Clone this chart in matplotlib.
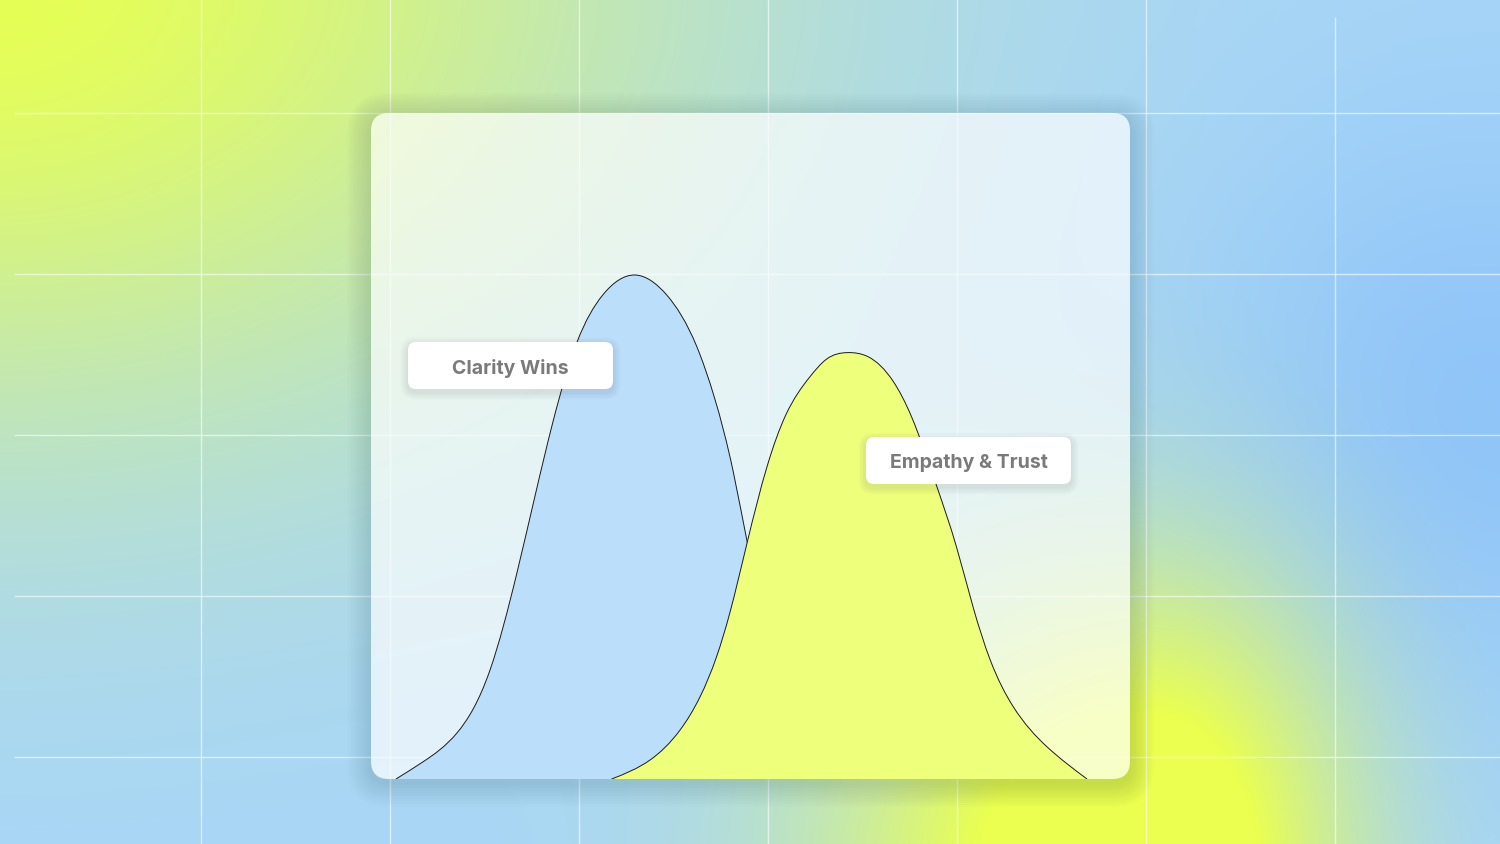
import numpy as np
import matplotlib
matplotlib.use("Agg")
import matplotlib.pyplot as plt
from matplotlib.patches import FancyBboxPatch, PathPatch
from matplotlib.path import Path

# curve data (x in score units, y relative density, blue peak = 100)
blue_x = [0, 3.9, 8.8, 13.6, 17.5, 22.7, 26.2, 29.9, 34.6,
          39.2, 43.5, 46.1, 48.8, 50.8, 55.6, 60.3, 65.3, 69.2]
blue_y = [0, 3.4, 9.1, 21.6, 40.9, 70.8, 86.7, 96.0, 100,
          96.0, 85.9, 75.6, 61.0, 47.2, 21.6, 9.1, 3.4, 0]
yellow_x = [31.2, 36.8, 41.1, 44.0, 46.4, 48.3, 50.8, 53.7, 56.4, 59.9, 62.3, 65.3,
            68.3, 72.0, 74.6, 78.2, 81.1, 83.5, 86.0, 89.3, 94.2, 100.0]
yellow_y = [0, 3.8, 9.7, 16.3, 24.3, 32.9, 46.8, 62.0, 72.2, 79.8, 83.3, 84.6,
            83.8, 78.8, 71.9, 58.3, 46.1, 34.2, 23.6, 14.4, 6.4, 0]
labels = ["Clarity Wins", "Empathy & Trust"]

W, H = 1500, 844
CARD = (371, 113, 759, 666)  # x, y(top), w, h in px


def spline_verts(xs, ys):
    # natural cubic spline, written out as bezier segments
    xs = np.asarray(xs, float)
    ys = np.asarray(ys, float)
    n = len(xs)
    h = np.diff(xs)
    d = np.diff(ys) / h
    A = np.zeros((n, n))
    r = np.zeros(n)
    A[0, 0] = A[-1, -1] = 1
    for k in range(1, n - 1):
        A[k, k - 1] = h[k - 1]
        A[k, k] = 2 * (h[k - 1] + h[k])
        A[k, k + 1] = h[k]
        r[k] = 6 * (d[k] - d[k - 1])
    M = np.linalg.solve(A, r)
    m = np.empty(n)
    m[:-1] = d - h * (2 * M[:-1] + M[1:]) / 6
    m[-1] = d[-1] + h[-1] * (M[-2] + 2 * M[-1]) / 6
    verts = [(xs[0], ys[0])]
    codes = [Path.MOVETO]
    for k in range(n - 1):
        dx = h[k]
        verts += [(xs[k] + dx / 3, ys[k] + m[k] * dx / 3),
                  (xs[k + 1] - dx / 3, ys[k + 1] - m[k + 1] * dx / 3),
                  (xs[k + 1], ys[k + 1])]
        codes += [Path.CURVE4] * 3
    return verts, codes


def background():
    yy, xx = np.mgrid[0:H, 0:W] + 0.5
    img = np.ones((H, W, 3)) * np.array([168, 214, 248]) / 255

    def mix(img, col, w):
        col = np.array(col) / 255
        return img * (1 - w[..., None]) + col * w[..., None]

    img = mix(img, (230, 255, 85), np.exp(-((xx + 20) / 660) ** 2 - ((yy + 20) / 440) ** 2))
    img = mix(img, (140, 194, 250), 0.85 * np.exp(-((xx - 1480) / 300) ** 2 - ((yy - 420) / 300) ** 2))
    sx = np.where(xx > 1150, 190, 300)
    w = np.clip(1.4 * np.exp(-((xx - 1150) / sx) ** 2 - ((yy - 880) / 290) ** 2), 0, 1)
    img = mix(img, (234, 255, 80), w)
    return np.clip(img, 0, 1)


def shadow_box(ax, x, y, w, h, r, layers, step, alpha, dy, z, col=(0.12, 0.22, 0.28)):
    for i in range(layers, 0, -1):
        p = i * step
        ax.add_patch(FancyBboxPatch((x - p, y - p + dy), w + 2 * p, h + 2 * p,
                                    boxstyle=f"round,pad=0,rounding_size={r + p}",
                                    fc=col, ec="none", alpha=alpha, zorder=z))


fig = plt.figure(figsize=(15, 8.44), dpi=100)
bg = fig.add_axes([0, 0, 1, 1])
bg.set_xlim(0, W)
bg.set_ylim(H, 0)
bg.axis("off")
bg_img = background()
bg.imshow(bg_img, extent=(0, W, H, 0), aspect="auto", zorder=0)

# white grid
grid_x = list(range(201, W, 189))
grid_y = list(range(113, H, 161))
for gx in grid_x:
    bg.plot([gx, gx], [18 if gx > 1300 else 0, H], color="white", lw=1, alpha=0.6, zorder=1)
for gy in grid_y:
    bg.plot([15, W], [gy, gy], color="white", lw=1, alpha=0.6, zorder=1)

# card: shadow, then a fresh copy of the backdrop so the shadow does not show through
cx, cy, cw, ch = CARD
shadow_box(bg, cx, cy, cw, ch, 18, 12, 2, 0.012, 4, 2)
card_shape = FancyBboxPatch((cx, cy), cw, ch, boxstyle="round,pad=0,rounding_size=18",
                            fc="none", ec="none")
bg.add_patch(card_shape)
under = bg.imshow(bg_img, extent=(0, W, H, 0), aspect="auto", zorder=2.5)
under.set_clip_path(card_shape)
for gx in grid_x:
    ln, = bg.plot([gx, gx], [0, H], color="white", lw=1, alpha=0.5, zorder=2.6)
    ln.set_clip_path(card_shape)
for gy in grid_y:
    ln, = bg.plot([15, W], [gy, gy], color="white", lw=1, alpha=0.5, zorder=2.6)
    ln.set_clip_path(card_shape)
bg.add_patch(FancyBboxPatch((cx, cy), cw, ch, boxstyle="round,pad=0,rounding_size=18",
                            fc="white", ec="none", alpha=0.68, zorder=3))

# chart axes over the card: x 0..100 -> px 396..1087, y 0..100 -> 504 px
px_x = (1087 - 396) / 100
px_y = 504 / 100
ax = fig.add_axes([cx / W, (H - cy - ch) / H, cw / W, ch / H])
ax.set_xlim(-(396 - cx) / px_x, 100 + (cx + cw - 1087) / px_x)
ax.set_ylim(0, ch / px_y)
ax.axis("off")
ax.patch.set_alpha(0)

for xs, ys, col in [(blue_x, blue_y, "#bbdefb"), (yellow_x, yellow_y, "#eeff7c")]:
    v, c = spline_verts(xs, ys)
    ax.add_patch(PathPatch(Path(v + [v[0]], c + [Path.CLOSEPOLY]), fc=col, ec="none"))
    ax.add_patch(PathPatch(Path(v, c), fc="none", ec="#1a1a1a", lw=0.7))

# label chips
top = fig.add_axes([0, 0, 1, 1])
top.set_xlim(0, W)
top.set_ylim(H, 0)
top.axis("off")
top.patch.set_alpha(0)
for (lx, ly), text in zip([(408, 342), (866, 437)], labels):
    shadow_box(top, lx, ly, 205, 47, 8, 5, 1.5, 0.025, 3, 4, col=(0.3, 0.3, 0.35))
    top.add_patch(FancyBboxPatch((lx, ly), 205, 47, boxstyle="round,pad=0,rounding_size=8",
                                 fc="white", ec="none", zorder=5))
    top.text(lx + 102.5, ly + 26, text, ha="center", va="center", fontsize=14,
             family="Inter", weight="bold", color="#7a7a7a", zorder=6)

fig.savefig("out.png", dpi=100)
